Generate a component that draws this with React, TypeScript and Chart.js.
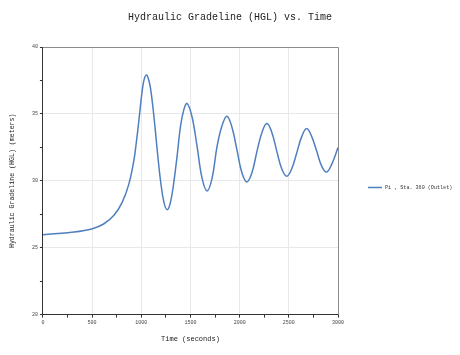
import React, { useEffect, useRef } from "react";
import { Chart, registerables } from "chart.js";

Chart.register(...registerables);

const times = [
  0, 317, 503, 621, 722, 807, 875, 925, 950, 976, 1010, 1030, 1054, 1075, 1094, 1120, 1145, 1170, 1196, 1230,
  1263, 1297, 1331, 1365, 1398, 1432, 1466, 1517, 1568, 1618, 1669, 1720, 1770, 1820, 1871, 1922, 1973, 2023,
  2074, 2125, 2176, 2226, 2277, 2328, 2378, 2428, 2479, 2530, 2581, 2631, 2682, 2733, 2784, 2834, 2885, 2940, 3000,
];
const hgl = [
  25.97, 26.17, 26.42, 26.79, 27.42, 28.41, 29.79, 31.54, 32.9, 34.53, 36.78, 37.6, 37.9, 37.55, 36.9, 35.4, 33.6, 31.7, 30.0, 28.4,
  27.84, 28.4, 29.9, 31.9, 34.03, 35.3, 35.78, 34.75, 32.53, 30.2, 29.24, 30.2, 32.55, 34.1, 34.83, 34.0, 32.3, 30.6,
  29.91, 30.6, 32.2, 33.6, 34.28, 33.6, 32.2, 30.9, 30.34, 30.9, 32.1, 33.3, 33.9, 33.3, 32.2, 31.1, 30.66, 31.3, 32.48,
];
const seriesLabel = "Pi , Sta. 360 (Outlet)";
const titleText = "Hydraulic Gradeline (HGL) vs. Time";
const xTitle = "Time (seconds)";
const yTitle = "Hydraulic Gradeline (HGL) (meters)";

const MONO = "'Liberation Mono', 'DejaVu Sans Mono', monospace";
const LINE_COLOR = "#4f7fbf";

const framePlugin = {
  id: "frame",
  afterDatasetsDraw(chart: any) {
    const { ctx, chartArea } = chart;
    ctx.save();
    ctx.strokeStyle = "#8c8c8c";
    ctx.lineWidth = 1;
    ctx.beginPath();
    ctx.moveTo(chartArea.left, chartArea.top + 0.5);
    ctx.lineTo(chartArea.right + 0.5, chartArea.top + 0.5);
    ctx.lineTo(chartArea.right + 0.5, chartArea.bottom);
    ctx.stroke();
    ctx.restore();
  },
  afterDraw(chart: any) {
    const { ctx, chartArea, width } = chart;
    const ds = chart.data.datasets[0];
    // title centred on the whole canvas
    ctx.save();
    ctx.fillStyle = "#222";
    ctx.font = `10px ${MONO}`;
    ctx.textAlign = "center";
    ctx.textBaseline = "middle";
    ctx.fillText(titleText, width / 2, 17);
    // legend
    const x0 = chartArea.right + 30;
    const y = Math.round((chartArea.top + chartArea.bottom) / 2) + 6.5;
    ctx.strokeStyle = ds.borderColor;
    ctx.lineWidth = 1.5;
    ctx.beginPath();
    ctx.moveTo(x0, y);
    ctx.lineTo(x0 + 14, y);
    ctx.stroke();
    ctx.fillStyle = "#333";
    ctx.font = `5.1px ${MONO}`;
    ctx.textAlign = "left";
    ctx.fillText(ds.label, x0 + 17, y);
    ctx.restore();
  },
};

export default function App() {
  const ref = useRef<HTMLCanvasElement>(null);
  useEffect(() => {
    if (!ref.current) return;
    const chart = new Chart(ref.current, {
      type: "line",
      data: {
        datasets: [
          {
            label: seriesLabel,
            data: times.map((t, i) => ({ x: t, y: hgl[i] })),
            borderColor: LINE_COLOR,
            backgroundColor: LINE_COLOR,
            borderWidth: 1.5,
            pointRadius: 0,
            tension: 0.4,
            fill: false,
          },
        ],
      },
      plugins: [framePlugin],
      options: {
        animation: false,
        responsive: false,
        layout: { padding: { left: 8, right: 122, top: 47, bottom: 12 } },
        plugins: {
          title: { display: false },
          legend: { display: false },
          tooltip: { enabled: false },
        },
        scales: {
          x: {
            type: "linear",
            min: 0,
            max: 3000,
            ticks: {
              stepSize: 250,
              color: "#444",
              font: { family: MONO, size: 5 },
              padding: 2,
              maxRotation: 0,
              autoSkip: false,
              callback: (v: any) => (Number(v) % 500 === 0 ? String(v) : ""),
            },
            grid: {
              color: (c: any) => (c.tick && c.tick.value % 500 === 0 ? "#e8e8e8" : "rgba(0,0,0,0)"),
              tickColor: "#333",
              tickLength: 3,
            },
            border: { color: "#333", width: 1 },
            title: {
              display: true,
              text: xTitle,
              color: "#222",
              font: { family: MONO, size: 7 },
              padding: { top: 7, bottom: 0 },
            },
          },
          y: {
            type: "linear",
            min: 20,
            max: 40,
            ticks: {
              stepSize: 2.5,
              color: "#444",
              font: { family: MONO, size: 5 },
              padding: 2,
              autoSkip: false,
              callback: (v: any) => (Number(v) % 5 === 0 ? String(v) : ""),
            },
            grid: {
              color: (c: any) => (c.tick && c.tick.value % 5 === 0 ? "#e8e8e8" : "rgba(0,0,0,0)"),
              tickColor: "#333",
              tickLength: 3,
            },
            border: { color: "#333", width: 1 },
            title: {
              display: true,
              text: yTitle,
              color: "#222",
              font: { family: MONO, size: 6.6 },
              padding: { top: 0, bottom: 14 },
            },
          },
        },
      },
    } as any);
    return () => chart.destroy();
  }, []);
  return (
    <div style={{ position: "fixed", left: 0, top: 0, width: 460, height: 355, background: "#fff" }}>
      <canvas ref={ref} width={460} height={355} style={{ width: 460, height: 355 }} />
    </div>
  );
}
